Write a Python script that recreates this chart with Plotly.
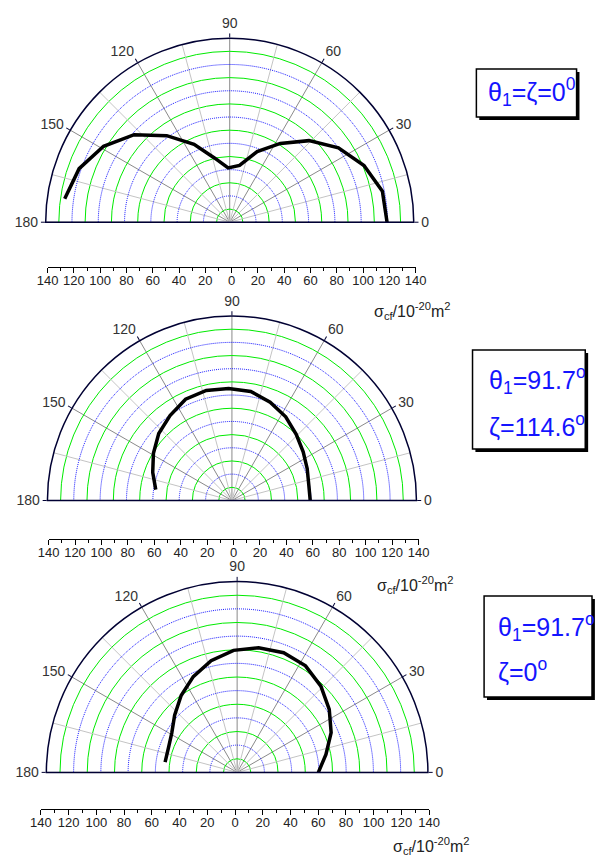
import plotly.graph_objects as go
import numpy as np

W, H = 603, 857

# ---- data (angles in radians, cross sections in 1e-20 m^2) ----
angles_rad = [0.0, 0.2, 0.4, 0.6, 0.8, 1.0, 1.2, 1.4, 1.6, 1.8, 2.0, 2.2, 2.4, 2.6, 2.8, 3.0]
sigma_top = [119.7, 118.5, 110.9, 100.2, 86.5, 71.2, 57.7, 43.9, 41.3, 50.0, 65.2, 81.4, 98.6, 112.0, 121.6, 126.8]
sigma_mid = [59.4, 59.5, 62.0, 65.5, 70.0, 75.5, 80.0, 84.0, 85.1, 85.8, 84.5, 79.8, 75.3, 69.5, 63.8, 58.4]
sigma_bot = [59.6, 66.5, 74.9, 81.9, 88.2, 92.9, 94.2, 92.8, 89.6, 84.1, 77.3, 69.8, 62.2, 56.0, 53.5, 53.4]

angle_ticks = [0, 30, 60, 90, 120, 150, 180]
minor_spokes = [15, 45, 75, 105, 135, 165]
green_rings = [10, 30, 50, 70, 90, 110, 130]
blue_rings = [20, 40, 60, 80, 100, 120]
r_max = 140
lin_tickvals = [-140, -120, -100, -80, -60, -40, -20, 0, 20, 40, 60, 80, 100, 120, 140]
lin_ticktext = [str(abs(v)) for v in lin_tickvals]

FONT = "Liberation Sans"
GREEN = "rgb(0,235,0)"
BLUE = "rgb(20,20,255)"


def px(x):
    return x / W


def py(y):
    return 1 - y / H


# polar geometry in pixels: (center x, center y, radius)
polars = [(227.0, 225.7, 191.0), (229.3, 504.0, 191.5), (234.7, 776.0, 198.0)]
# linear axis: (x0, x1, y)
linaxes = [(38, 420, 267), (39, 423, 539), (31, 434, 809)]
series = [sigma_top, sigma_mid, sigma_bot]

fig = go.Figure()
theta_dense = np.linspace(0, 180, 361)
layout = dict(width=W, height=H, margin=dict(l=0, r=0, t=0, b=0),
              paper_bgcolor="white", plot_bgcolor="white", showlegend=False,
              font=dict(family=FONT, color="#222"))

for i, ((cx, cy, R), (ax0, ax1, ay), data) in enumerate(zip(polars, linaxes, series)):
    pname = "polar" if i == 0 else f"polar{i+1}"
    # minor spokes
    for a in minor_spokes:
        fig.add_trace(go.Scatterpolar(r=[0, r_max], theta=[a, a], mode="lines",
                                      line=dict(color="#c4c4c4", width=1),
                                      subplot=pname, hoverinfo="skip"))
    # blue dotted rings
    for rr in blue_rings:
        fig.add_trace(go.Scatterpolar(r=[rr] * len(theta_dense), theta=theta_dense, mode="lines",
                                      line=dict(color=BLUE, width=1, dash="1px,1px"),
                                      subplot=pname, hoverinfo="skip"))
    # data curve
    fig.add_trace(go.Scatterpolar(r=data, theta=list(np.degrees(angles_rad)), mode="lines",
                                  line=dict(color="black", width=3.5),
                                  subplot=pname))
    layout[pname] = dict(
        domain=dict(x=[px(cx - R), px(cx + R)], y=[py(cy), py(cy - R)]),
        sector=[0, 180],
        bgcolor="white",
        radialaxis=dict(range=[0, r_max], tickvals=green_rings, showgrid=True,
                        gridcolor=GREEN, gridwidth=1, showline=False,
                        showticklabels=False, ticks=""),
        angularaxis=dict(tickvals=angle_ticks, ticktext=[str(a) for a in angle_ticks],
                         showgrid=True, gridcolor="#8a8a8a", gridwidth=1,
                         showline=True, linecolor="#000033", linewidth=1.5,
                         ticks="outside", ticklen=4, tickcolor="#000033",
                         tickfont=dict(size=14, color="#333", family=FONT)),
    )
    xn = "xaxis" if i == 0 else f"xaxis{i+1}"
    yn = "yaxis" if i == 0 else f"yaxis{i+1}"
    yref = "y" if i == 0 else f"y{i+1}"
    layout[xn] = dict(domain=[px(ax0), px(ax1)], anchor=yref, range=[-140, 140],
                      tickvals=lin_tickvals, ticktext=lin_ticktext,
                      showline=True, linecolor="black", linewidth=1,
                      ticks="outside", ticklen=5, tickcolor="black",
                      minor=dict(dtick=10, ticks="outside", ticklen=3, tickcolor="black"),
                      showgrid=False, zeroline=False, fixedrange=True,
                      ticklabelstandoff=-4,
                      tickfont=dict(size=13, color="#222", family=FONT))
    layout[yn] = dict(domain=[py(ay), py(ay - 6)], visible=False, range=[0, 1])
    xref = "x" if i == 0 else f"x{i+1}"
    fig.add_trace(go.Scatter(x=[None], y=[None], xaxis=xref, yaxis=yref, mode="lines"))

fig.update_layout(**layout)

# axis title labels
sig_label = "σ<sub>cf</sub>/10<sup>-20</sup>m<sup>2</sup>"
for (lx, ly) in [(417, 311), (420, 585), (436, 846)]:
    fig.add_annotation(x=px(lx), y=py(ly), xref="paper", yref="paper", text=sig_label,
                       showarrow=False, font=dict(size=16, color="#222", family=FONT),
                       xanchor="center", yanchor="middle")

# boxes with shadows
boxes = [(483, 69, 587, 117), (479, 350, 596, 449), (491, 596, 603, 697)]
for (x0, y0, x1, y1) in boxes:
    fig.add_shape(type="rect", xref="paper", yref="paper",
                  x0=px(x0 + 3), x1=px(x1 + 3), y0=py(y1 + 3), y1=py(y0 + 3),
                  fillcolor="black", line=dict(width=0), layer="above")
    fig.add_shape(type="rect", xref="paper", yref="paper",
                  x0=px(x0), x1=px(x1), y0=py(y1), y1=py(y0),
                  fillcolor="white", line=dict(color="black", width=1.5), layer="above")

box_font = dict(size=25, color=BLUE, family=FONT)
box_texts = [
    (541, 92, "center", "θ<sub>1</sub>=ζ=0<sup>0</sup>"),
    (494, 380, "left", "θ<sub>1</sub>=91.7<sup>o</sup>"),
    (494, 425, "left", "ζ=114.6<sup>o</sup>"),
    (503, 627, "left", "θ<sub>1</sub>=91.7<sup>o</sup>"),
    (503, 670, "left", "ζ=0<sup>o</sup>"),
]
for (tx, ty, anc, txt) in box_texts:
    fig.add_annotation(x=px(tx), y=py(ty), xref="paper", yref="paper", text=txt,
                       showarrow=False, font=box_font, xanchor=anc, yanchor="middle")

fig.write_html("out.html")
